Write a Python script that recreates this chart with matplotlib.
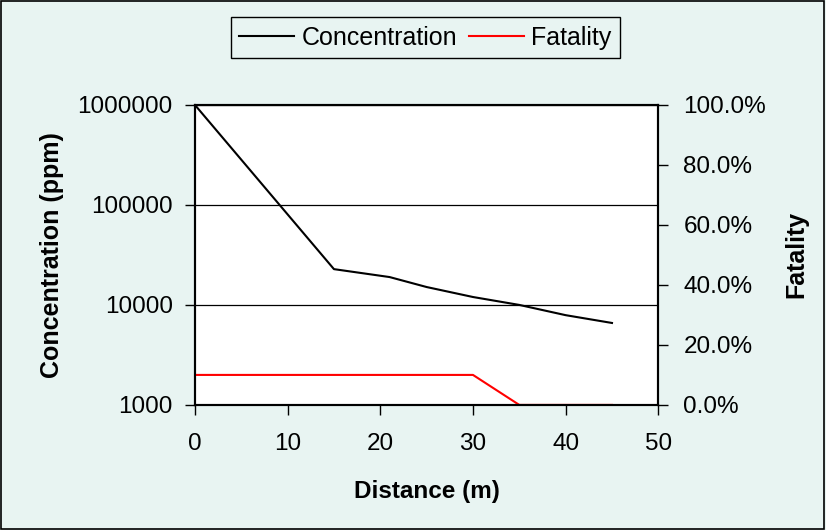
import matplotlib
matplotlib.use("Agg")
from matplotlib import pyplot as plt
from matplotlib.patches import Rectangle
from matplotlib.ticker import FixedLocator, FuncFormatter, NullLocator

plt.rcParams['font.family'] = ['Liberation Sans', 'DejaVu Sans']

distance = [0, 15, 21, 25, 30, 35, 40, 45]
concentration = [1000000, 22800, 19000, 15100, 12000, 10000, 7900, 6600]

fat_distance = [0, 5, 10, 15, 20, 25, 30, 35, 40, 45]
fatality = [0.1, 0.1, 0.1, 0.1, 0.1, 0.1, 0.1, 0.0, 0.0, 0.0]

bg = '#e8f4f2'
fs = 17.5

fig = plt.figure(figsize=(8.26, 5.30), dpi=100)
fig.patch.set_facecolor(bg)
fig.patches.append(Rectangle((0.001, 0.001), 0.997, 0.997, transform=fig.transFigure,
                             fill=False, edgecolor='black', linewidth=1.2))

ax = fig.add_axes([0.236, 0.236, 0.561, 0.566])
ax.set_facecolor('white')
l1, = ax.plot(distance, concentration, color='black', linewidth=1.5, label='Concentration')
ax.set_yscale('log')
ax.set_ylim(1000, 1000000)
ax.set_xlim(0, 50)
ax.yaxis.set_major_locator(FixedLocator([1000, 10000, 100000, 1000000]))
ax.yaxis.set_minor_locator(NullLocator())
ax.yaxis.set_major_formatter(FuncFormatter(lambda v, p: '%d' % v))
ax.set_xticks([0, 10, 20, 30, 40, 50])
ax.grid(axis='y', color='black', linewidth=0.9)
ax.tick_params(direction='out', length=7, width=1, labelsize=fs, colors='black')
ax.tick_params(axis='x', pad=13)
ax.tick_params(axis='y', pad=9)
ax.set_xlabel('Distance (m)', fontsize=fs, fontweight='bold', labelpad=18)
ax.set_ylabel('Concentration (ppm)', fontsize=fs + 0.5, fontweight='bold', labelpad=10)

ax2 = ax.twinx()
l2, = ax2.plot(fat_distance, fatality, color='red', linewidth=1.5, label='Fatality')
ax2.set_ylim(0, 1)
ax2.set_yticks([0, 0.2, 0.4, 0.6, 0.8, 1.0])
ax2.yaxis.set_major_formatter(FuncFormatter(lambda v, p: '%.1f%%' % (v * 100)))
ax2.tick_params(direction='out', length=7, width=1, labelsize=fs, colors='black', pad=11)
ax2.set_ylabel('Fatality', fontsize=fs + 0.5, fontweight='bold', labelpad=13)

for a in (ax, ax2):
    for s in a.spines.values():
        s.set_linewidth(1.5)
        s.set_color('black')

leg = fig.legend(handles=[l1, l2], loc='upper center', bbox_to_anchor=(0.515, 0.968),
                 ncol=2, fontsize=fs + 0.5, frameon=True, fancybox=False, edgecolor='black',
                 facecolor=bg, framealpha=1, handlelength=2.2, handletextpad=0.3,
                 columnspacing=0.45, borderpad=0.35, borderaxespad=0)
leg.get_frame().set_linewidth(1.0)

fig.savefig('out.png', dpi=100, facecolor=bg)
